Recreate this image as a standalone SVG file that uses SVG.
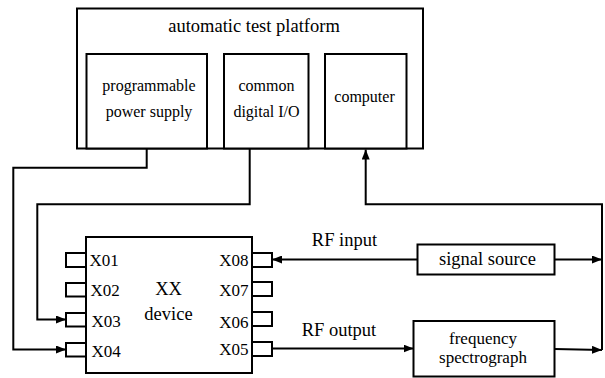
<svg xmlns="http://www.w3.org/2000/svg" width="605" height="378" viewBox="0 0 605 378">
<style>
.box{fill:#fff;stroke:#000;stroke-width:2}
.ln{fill:none;stroke:#000;stroke-width:2}
text{font-family:"Liberation Serif","Times New Roman",serif;fill:#000}
.t16{font-size:16px}
.t17{font-size:17px}
.t18{font-size:18.5px}
.c{text-anchor:middle}
.e{text-anchor:end}
</style>
<defs>
<marker id="arr" viewBox="0 0 10 8" refX="10" refY="4" markerWidth="10" markerHeight="8" markerUnits="userSpaceOnUse" orient="auto">
<path d="M0,0 L10,4 L0,8 z" fill="#000"/>
</marker>
</defs>
<g id="platform">
<rect class="box" x="77" y="8.5" width="346" height="140"/>
<text class="t18 c" x="254" y="32">automatic test platform</text>
</g>
<g id="power">
<rect class="box" x="86.5" y="54" width="120.5" height="94.5"/>
<text class="t16 c" x="149" y="91">programmable</text>
<text class="t16 c" x="149" y="117">power supply</text>
</g>
<g id="dio">
<rect class="box" x="224" y="54" width="84.5" height="94.5"/>
<text class="t16 c" x="266.5" y="91">common</text>
<text class="t16 c" x="266.5" y="117">digital I/O</text>
</g>
<g id="computer">
<rect class="box" x="325" y="54" width="81.5" height="94.5"/>
<text class="t16 c" x="364.5" y="102">computer</text>
</g>
<g id="device">
<rect class="box" x="86" y="237" width="166" height="136"/>
<rect class="box" x="66" y="253" width="20" height="14"/>
<rect class="box" x="66" y="283" width="20" height="13.5"/>
<rect class="box" x="66" y="313" width="20" height="13.5"/>
<rect class="box" x="66" y="343" width="20" height="13.5"/>
<rect class="box" x="252" y="253" width="20" height="14"/>
<rect class="box" x="252" y="282" width="20" height="14"/>
<rect class="box" x="252" y="312" width="20" height="14"/>
<rect class="box" x="252" y="342" width="20" height="14"/>
<text class="t17" x="89.5" y="265.5">X01</text>
<text class="t17" x="90.5" y="295.5">X02</text>
<text class="t17" x="91.5" y="327">X03</text>
<text class="t17" x="91.5" y="357">X04</text>
<text class="t17 e" x="248.5" y="265.5">X08</text>
<text class="t17 e" x="248.5" y="295.5">X07</text>
<text class="t17 e" x="248.5" y="328">X06</text>
<text class="t17 e" x="248.5" y="355">X05</text>
<text class="t18 c" x="168.5" y="295">XX</text>
<text class="t18 c" x="168.5" y="320">device</text>
</g>
<g id="signal">
<rect class="box" x="417.5" y="244.5" width="137" height="30"/>
<text class="t18 c" x="487.5" y="265">signal source</text>
</g>
<g id="spectro">
<rect class="box" x="413.5" y="321" width="141" height="55.5"/>
<text class="t17 c" x="483" y="343.5">frequency</text>
<text class="t17 c" x="483" y="362.5">spectrograph</text>
</g>
<g id="connectors">
<polyline class="ln" points="146.7,148.5 146.7,167.7 13.3,167.7 13.3,349.5 66,349.5" marker-end="url(#arr)"/>
<polyline class="ln" points="249.7,148.5 249.7,204.3 37.3,204.3 37.3,319.5 66,319.5" marker-end="url(#arr)"/>
<polyline class="ln" points="602,350 602,204.3 365.7,204.3 365.7,149.5" marker-end="url(#arr)"/>
<line class="ln" x1="417.5" y1="259.5" x2="272" y2="259.5" marker-end="url(#arr)"/>
<line class="ln" x1="272" y1="348.5" x2="413.5" y2="348.5" marker-end="url(#arr)"/>
<line class="ln" x1="554.5" y1="259.5" x2="602" y2="259.5" marker-end="url(#arr)"/>
<line class="ln" x1="554.5" y1="349" x2="602" y2="350" marker-end="url(#arr)"/>
<text class="t18 c" x="344.5" y="246">RF input</text>
<text class="t18 c" x="339" y="336">RF output</text>
</g>
</svg>
